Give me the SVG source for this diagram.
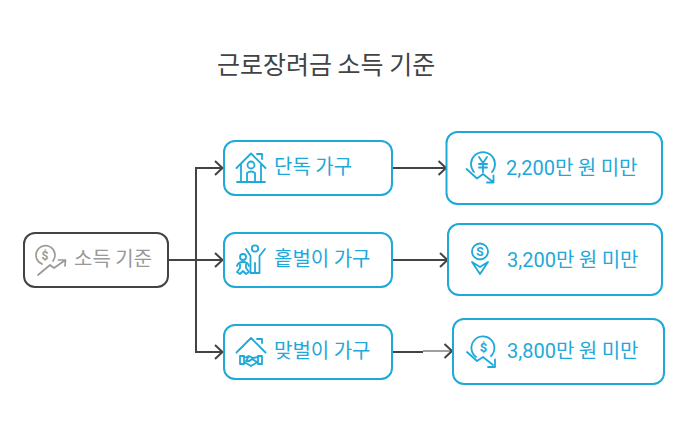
<svg xmlns="http://www.w3.org/2000/svg" width="686" height="436" viewBox="0 0 686 436">
<style>
text{font-family:"Roboto","Noto Sans CJK KR",sans-serif;font-size:20px;fill:#1ea9d9}
.t{font-family:"Noto Sans CJK KR",sans-serif}
.b{fill:#fff;stroke:#1ea9d9;stroke-width:2}
.i{fill:none;stroke:#1ea9d9;stroke-width:1.8;stroke-linecap:round;stroke-linejoin:round}
.g{fill:none;stroke:#999;stroke-width:1.7;stroke-linecap:round;stroke-linejoin:round}
.c{fill:none;stroke:#434343;stroke-width:2}
</style>
<rect width="686" height="436" fill="#fff"/>
<text class="t" x="217" y="74" style="font-size:25px;fill:#434343">근로장려금 소득 기준</text>
<g id="connectors">
<path class="c" d="M168 260H222M196 260V168H222M196 260V352H222M392 168H445M392 260H447M392 352H423"/>
<path d="M423 351H451" fill="none" stroke="#888" stroke-width="1.6"/>
<path class="c" d="M215 161L222.500 168L215 175M215 253L222.500 260L215 267M215 345L222.500 352L215 359M438.500 161L446 168L438.500 175M440 253L447.500 260L440 267M444.500 344L452 351L444.500 358"/>
</g>
<g id="source">
<rect x="24" y="233" width="144" height="54" rx="11" fill="#fff" stroke="#434343" stroke-width="2"/>
<path class="g" d="M42 264A9.500 9.500 0 1 1 53 261"/>
<path class="g" d="M38 275L50 265L54 268L64 261M58.500 260H65.500L65 266"/>
<text x="45" y="259.500" text-anchor="middle" style="font-size:12px;font-weight:700;fill:#999">$</text>
<text class="t" x="74" y="266" style="font-size:20px;fill:#999">소득 기준</text>
</g>
<g id="single">
<rect class="b" x="224" y="141" width="168" height="54" rx="11"/>
<path class="i" d="M236.500 168L251 153.500L265.500 168M257 154H262V159M241 165V181M261 165V181M237 182H265M247 181V173Q251 170 255 173V181"/>
<circle class="i" cx="251" cy="165" r="3.500"/>
<text class="t" x="274" y="174">단독 가구</text>
</g>
<g id="solo">
<rect class="b" x="224" y="233" width="168" height="54" rx="11"/>
<circle class="i" cx="255" cy="248.500" r="3.200"/>
<path class="i" d="M246 249L250.500 256V273H259.500V256L265 249M255 263V273"/>
<circle class="i" cx="243" cy="257" r="3"/>
<path class="i" d="M237 266Q238 262 243 262Q248 262 249 266M240 264V268L237 272L240 274L243 271L246 274L249 272L246 268V264"/>
<text class="t" x="274" y="266">홑벌이 가구</text>
</g>
<g id="dual">
<rect class="b" x="224" y="325" width="168" height="54" rx="11"/>
<path class="i" d="M236.500 352.500L251 338L265.500 352.500M257 339H262V343M240 356H244V364H240ZM258 356H262V364H258ZM244 358L249 356L253 358L258 357M249 356L246 361Q249 362 252 359L257 362M244 362L251 366L256 363"/>
<text class="t" x="274" y="358">맞벌이 가구</text>
</g>
<g id="r1">
<rect class="b" x="446.500" y="132" width="215.500" height="72" rx="11"/>
<path class="i" d="M474 172A12 12 0 1 1 492 172M466.500 169L477 178.500L483 174L493 182M493.500 175.500V182.500H487"/>
<path class="i" d="M479 157L483 163L487 157M483 163V172M479 164H487M479 167.500H487"/>
<text x="506" y="175">2,200<tspan class="t">만 원 미만</tspan></text>
</g>
<g id="r2">
<rect class="b" x="448" y="224" width="214" height="71" rx="11"/>
<circle class="i" cx="480" cy="251.500" r="8"/>
<path class="i" d="M472 262L480 267L488 262L480 274Z"/>
<text x="480" y="256" text-anchor="middle" style="font-size:12px;font-weight:700">S</text>
<text x="507" y="267">3,200<tspan class="t">만 원 미만</tspan></text>
</g>
<g id="r3">
<rect class="b" x="453" y="319" width="211" height="65" rx="11"/>
<path class="i" d="M476 357A11.500 11.500 0 1 1 491 356M467 352L477 361L483 357L493 365M495 359.500V367H488"/>
<text x="483.500" y="352" text-anchor="middle" style="font-size:13px;font-weight:700">$</text>
<text x="507" y="358">3,800<tspan class="t">만 원 미만</tspan></text>
</g>
</svg>
